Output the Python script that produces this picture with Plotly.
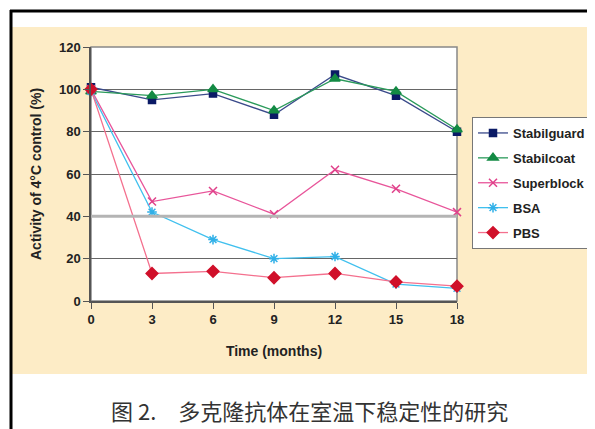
import plotly.graph_objects as go

months = [0, 3, 6, 9, 12, 15, 18]
stabilguard = [101, 95, 98, 88, 107, 97, 80]
stabilcoat = [99, 97, 100, 90, 105, 99, 81]
superblock = [100, 47, 52, 41, 62, 53, 42]
bsa = [99, 42, 29, 20, 21, 8, 6]
pbs = [100, 13, 14, 11, 13, 9, 7]

x_ticks = [0, 3, 6, 9, 12, 15, 18]
y_ticks = [0, 20, 40, 60, 80, 100, 120]

FONT = "Liberation Sans Narrow, Arial Narrow, Liberation Sans, sans-serif"

series = [
    ("Stabilguard", stabilguard, "#3a4a8a", "#0b1a66", "square", 7),
    ("Stabilcoat", stabilcoat, "#2a9a5a", "#138a44", "triangle-up", 9),
    ("Superblock", superblock, "#e8559a", "#e0408a", "x-thin-open", 8),
    ("BSA", bsa, "#40c0ee", "#30b0e8", "asterisk-open", 8),
    ("PBS", pbs, "#f4708e", "#d0102a", "diamond", 9),
]

fig = go.Figure()
for i, (name, vals, lc, mc, sym, size) in enumerate(series):
    fig.add_trace(go.Scatter(
        x=months, y=vals, name=name, mode="lines+markers",
        line=dict(color=lc, width=1.3),
        marker=dict(color=mc, symbol=sym, size=size, line=dict(color=mc, width=1.5)),
        cliponaxis=False, legendgroup=f"g{i}",
    ))

# page body has an 8px margin; compensate so the picture lines up
OFF = 8
W, H = 595, 429
L, R, T, B = 91 - OFF, 457 - OFF, 47 - OFF, 301 - OFF
pw, ph = R - L, B - T

def px(x):
    return (x - OFF - L) / pw

def py(y):
    return (B - (y - OFF)) / ph

shapes = [
    dict(type="rect", xref="paper", yref="paper", x0=px(12), x1=px(610), y0=py(374), y1=py(27),
         fillcolor="#fdecc6", line=dict(width=0), layer="below"),
    dict(type="rect", xref="paper", yref="paper", x0=0, x1=1, y0=0, y1=1,
         fillcolor="white", line=dict(width=0), layer="below"),
    dict(type="line", xref="paper", yref="paper", x0=px(10), x1=px(610), y0=py(11), y1=py(11),
         line=dict(color="black", width=3)),
    dict(type="line", xref="paper", yref="paper", x0=px(11), x1=px(11), y0=py(10), y1=py(440),
         line=dict(color="black", width=3)),
    dict(type="line", xref="paper", yref="y", x0=0, x1=1, y0=40, y1=40,
         line=dict(color="#b4b4b4", width=3), layer="above"),
    dict(type="rect", xref="paper", yref="paper", x0=0, x1=1, y0=0, y1=1,
         line=dict(color="#888888", width=1.5), layer="between"),
]

fig.update_layout(
    width=W, height=H,
    margin=dict(l=L, r=W - R, t=T, b=H - B),
    paper_bgcolor="white", plot_bgcolor="rgba(0,0,0,0)",
    font=dict(family=FONT, size=12, color="#222222"),
    shapes=shapes,
    showlegend=True,
    legend=dict(
        x=px(472), y=py(117), xanchor="left", yanchor="top",
        bgcolor="white", bordercolor="#777777", borderwidth=1,
        font=dict(family=FONT, size=13, color="#222222", weight="bold"),
        traceorder="grouped", tracegroupgap=5,
        itemwidth=30,
    ),
    xaxis=dict(
        range=[0, 18], tickvals=x_ticks, ticktext=[str(v) for v in x_ticks],
        showgrid=False, zeroline=False, automargin=False,
        ticks="outside", ticklen=6, tickcolor="#555555",
        showline=True, linecolor="#555555", linewidth=1.5,
        tickfont=dict(family=FONT, size=13, color="#222222", weight="bold"),
        title=dict(text="Time (months)", standoff=20,
                   font=dict(family=FONT, size=14, color="#222222", weight="bold")),
    ),
    yaxis=dict(
        range=[0, 120], tickvals=y_ticks, ticktext=[str(v) for v in y_ticks],
        showgrid=True, gridcolor="#666666", gridwidth=1, zeroline=False, automargin=False,
        ticks="outside", ticklen=6, tickcolor="#555555",
        showline=True, linecolor="#555555", linewidth=1.5,
        tickfont=dict(family=FONT, size=13, color="#222222", weight="bold"),
        title=dict(text="Activity of 4°C control (%)", standoff=14,
                   font=dict(family=FONT, size=14, color="#222222", weight="bold")),
    ),
    annotations=[
        dict(text="图 2.\u3000多克隆抗体在室温下稳定性的研究", xref="paper", yref="paper",
             x=px(309), y=py(410), xanchor="center", yanchor="middle", showarrow=False,
             font=dict(family="Noto Sans CJK SC", size=22, color="#333333")),
    ],
)

fig.write_html("out.html")
